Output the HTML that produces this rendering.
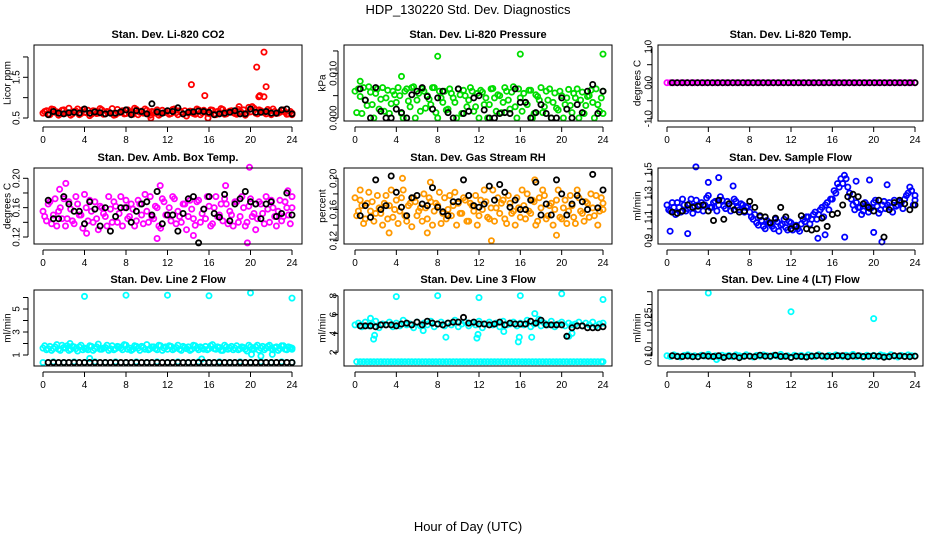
<!DOCTYPE html>
<html><head><meta charset="utf-8">
<style>
html,body{margin:0;padding:0;background:#fff;}
svg{display:block;font-family:"Liberation Sans",Arial,sans-serif;}
</style></head>
<body>
<svg id="chart" width="936" height="540" viewBox="0 0 936 540" xmlns="http://www.w3.org/2000/svg">
<text x="468" y="14" font-size="13" text-anchor="middle">HDP_130220  Std. Dev. Diagnostics</text>
<text x="468" y="531" font-size="13" text-anchor="middle">Hour of Day (UTC)</text>
</svg>
<script>
// ---- data ----
const xTicks = [0,4,8,12,16,20,24];

const co2A = [0.62,0.68,0.58,0.71,0.65,0.6,0.7,0.63,0.57,0.66,0.72,0.61,0.64,0.69,0.59,0.67,0.62,0.7,0.6,0.65,0.73,0.58,0.63,0.68,0.61,0.66,0.59,0.71,0.64,0.62,0.69,0.57,0.65,0.7,0.6,0.63,0.67,0.61,0.72,0.58,0.64,0.68,0.62,0.66,0.59,0.7,0.63,0.65,0.61,0.69,0.58,0.64,0.71,0.6,0.67,0.63,0.59,0.66,0.7,0.62,0.65,0.74,0.6,0.68,0.63,0.71,0.58,0.66,0.62,0.69,0.64,0.6,0.58];
const co2B = [0.66,0.6,0.72,0.64,0.57,0.69,0.62,0.74,0.6,0.67,0.58,0.7,0.63,0.56,0.68,0.61,0.73,0.59,0.66,0.62,0.57,0.71,0.65,0.6,0.7,0.63,0.74,0.58,0.67,0.72,0.6,0.66,0.62,0.57,0.69,0.64,0.59,0.71,0.63,0.68,0.6,0.55,0.67,0.61,0.72,0.58,0.69,0.62,0.7,0.6,0.66,0.73,0.59,0.64,0.68,0.61,0.71,0.63,0.57,0.76,0.78,0.62,0.7,0.65,0.6,0.67,0.72,0.61,0.64,0.7,0.59,0.66,0.62];
const co2Out = [[14.3,1.32],[15.6,1.05],[20.6,1.75],[21.3,2.12],[21.5,1.27],[20.8,1.02],[20.9,1.05],[21.3,1.02],[15.9,0.5],[10.4,0.5],[18.9,0.78]];
const co2K = [0.58,0.66,0.62,0.6,0.63,0.64,0.62,0.72,0.62,0.65,0.63,0.6,0.62,0.62,0.65,0.7,0.58,0.68,0.66,0.6,0.85,0.65,0.62,0.68,0.66,0.75,0.6,0.64,0.65,0.67,0.66,0.64,0.58,0.6,0.62,0.64,0.68,0.6,0.6,0.72,0.64,0.64,0.66,0.62,0.62,0.7,0.72,0.6];

const presA = [0.006,0.0065,0.001,0.004,0.007,0.003,0.0055,0.002,0.0068,0.0045,0.001,0.006,0.0035,0.005,0.0,0.0065,0.0025,0.007,0.004,0.0015,0.006,0.005,0.003,0.0068,0.0,0.0045,0.006,0.002,0.0055,0.0035,0.0065,0.001,0.005,0.004,0.006,0.0025,0.0,0.0058,0.0045,0.003,0.0066,0.0015,0.005,0.0035,0.006,0.002,0.007,0.0,0.0045,0.0055,0.003,0.0062,0.001,0.0048,0.0068,0.0025,0.004,0.0,0.0056,0.0018,0.005,0.003,0.0064,0.0012,0.0045,0.0,0.0058,0.0028,0.005,0.0035,0.0065,0.0015,0.006];
const presB = [0.0012,0.0048,0.0068,0.0028,0.0058,0.0,0.0065,0.0042,0.0015,0.0062,0.0032,0.0052,0.0068,0.001,0.006,0.0038,0.0068,0.0,0.0055,0.0065,0.0022,0.0042,0.0068,0.0012,0.006,0.0035,0.0018,0.0065,0.0045,0.0,0.0052,0.0062,0.0025,0.0068,0.0015,0.0055,0.0062,0.003,0.0,0.0065,0.0045,0.0052,0.0012,0.0068,0.004,0.0058,0.0025,0.0065,0.0015,0.0035,0.0062,0.0,0.0052,0.004,0.0012,0.006,0.0065,0.0035,0.0022,0.006,0.0,0.0045,0.0028,0.0055,0.0065,0.004,0.001,0.0048,0.0062,0.0,0.003,0.0045,0.001];
const presOut = [[8,0.0138],[16,0.0143],[24,0.0143],[0.5,0.0082],[4.5,0.0093]];
const presK = [0.0065,0.004,0.0,0.0068,0.0015,0.0,0.0,0.002,0.0012,0.0,0.0052,0.006,0.0068,0.0048,0.002,0.0045,0.006,0.0012,0.0,0.0065,0.001,0.0015,0.0045,0.005,0.0018,0.0,0.0,0.001,0.0012,0.001,0.0065,0.0035,0.0035,0.0,0.0012,0.003,0.001,0.0,0.0,0.0045,0.002,0.0,0.003,0.0012,0.006,0.0075,0.001,0.006];

const tempA = [0,0,0,0,0,0,0,0,0,0,0,0,0,0,0,0,0,0,0,0,0,0,0,0,0,0,0,0,0,0,0,0,0,0,0,0,0,0,0,0,0,0,0,0,0,0,0,0,0,0,0,0,0,0,0,0,0,0,0,0,0,0,0,0,0,0,0,0,0,0,0,0,0];
const tempK = [0,0,0,0,0,0,0,0,0,0,0,0,0,0,0,0,0,0,0,0,0,0,0,0,0,0,0,0,0,0,0,0,0,0,0,0,0,0,0,0,0,0,0,0,0,0,0,0,0];

const ambA = [0.155,0.142,0.168,0.15,0.135,0.16,0.172,0.145,0.158,0.138,0.165,0.15,0.178,0.142,0.155,0.168,0.13,0.16,0.148,0.175,0.14,0.162,0.152,0.135,0.17,0.148,0.158,0.142,0.165,0.138,0.155,0.175,0.145,0.16,0.132,0.168,0.15,0.142,0.172,0.155,0.14,0.165,0.148,0.158,0.136,0.17,0.152,0.145,0.162,0.138,0.175,0.15,0.142,0.165,0.155,0.135,0.168,0.148,0.16,0.14,0.172,0.152,0.145,0.165,0.138,0.158,0.17,0.148,0.155,0.142,0.168,0.15,0.16];
const ambB = [0.148,0.165,0.138,0.172,0.155,0.145,0.135,0.168,0.142,0.175,0.15,0.132,0.16,0.17,0.14,0.145,0.162,0.152,0.135,0.158,0.168,0.14,0.175,0.16,0.145,0.165,0.135,0.17,0.15,0.178,0.14,0.148,0.162,0.135,0.172,0.15,0.16,0.175,0.138,0.148,0.165,0.13,0.17,0.145,0.168,0.14,0.158,0.175,0.135,0.16,0.148,0.165,0.172,0.138,0.15,0.168,0.14,0.175,0.135,0.162,0.148,0.13,0.168,0.152,0.175,0.14,0.16,0.135,0.17,0.148,0.16,0.138,0.175];
const ambOut = [[19.9,0.215],[11.0,0.118],[19.7,0.112],[4.2,0.125],[14.5,0.122],[2.2,0.193],[11.3,0.19],[17.6,0.19],[1.6,0.185],[23.6,0.183]];
const ambK = [0.17,0.145,0.145,0.175,0.165,0.155,0.155,0.138,0.168,0.158,0.135,0.16,0.128,0.148,0.16,0.16,0.14,0.155,0.165,0.168,0.15,0.182,0.138,0.15,0.15,0.128,0.152,0.172,0.175,0.112,0.158,0.175,0.152,0.147,0.178,0.142,0.165,0.172,0.182,0.168,0.165,0.145,0.165,0.168,0.148,0.152,0.18,0.15];

const rhA = [0.175,0.158,0.165,0.148,0.182,0.17,0.155,0.162,0.14,0.178,0.165,0.15,0.172,0.158,0.185,0.145,0.168,0.175,0.152,0.162,0.18,0.148,0.17,0.158,0.165,0.142,0.175,0.16,0.152,0.182,0.168,0.155,0.172,0.145,0.165,0.178,0.152,0.16,0.17,0.148,0.185,0.162,0.155,0.172,0.142,0.168,0.158,0.175,0.15,0.165,0.18,0.155,0.17,0.145,0.162,0.178,0.152,0.168,0.16,0.185,0.148,0.172,0.158,0.165,0.142,0.175,0.155,0.17,0.15,0.162,0.178,0.158,0.168];
const rhB = [0.152,0.172,0.142,0.168,0.158,0.145,0.178,0.155,0.168,0.148,0.185,0.16,0.142,0.175,0.152,0.165,0.138,0.17,0.158,0.145,0.162,0.175,0.14,0.168,0.182,0.155,0.148,0.178,0.165,0.14,0.155,0.175,0.145,0.168,0.158,0.14,0.172,0.185,0.15,0.162,0.145,0.175,0.168,0.148,0.178,0.155,0.14,0.162,0.185,0.148,0.158,0.172,0.14,0.175,0.185,0.148,0.165,0.14,0.172,0.15,0.162,0.142,0.178,0.15,0.185,0.158,0.145,0.168,0.18,0.152,0.14,0.175,0.16];
const rhOut = [[13.2,0.12],[19.5,0.127],[3.3,0.13],[7.0,0.13],[4.6,0.2],[7.3,0.195],[17.4,0.198],[0.5,0.185]];
const rhK = [0.152,0.165,0.15,0.198,0.16,0.165,0.203,0.182,0.163,0.152,0.175,0.178,0.167,0.165,0.188,0.163,0.157,0.152,0.17,0.17,0.198,0.178,0.165,0.163,0.167,0.19,0.172,0.192,0.182,0.163,0.172,0.16,0.16,0.172,0.195,0.153,0.167,0.153,0.198,0.18,0.153,0.167,0.178,0.17,0.16,0.205,0.162,0.185];

const flowA = [1.2,1.15,1.18,1.22,1.14,1.2,1.17,1.25,1.19,1.16,1.22,1.2,1.28,1.18,1.23,1.2,1.24,1.17,1.21,1.19,1.23,1.16,1.2,1.18,1.14,1.08,1.05,1.1,1.02,1.07,1.04,1.0,1.06,1.03,1.08,0.99,1.05,1.02,1.0,1.04,1.06,1.1,1.08,1.14,1.12,1.18,1.2,1.16,1.25,1.3,1.35,1.38,1.42,1.3,1.2,1.22,1.18,1.15,1.2,1.17,1.22,1.19,1.16,1.23,1.2,1.18,1.24,1.2,1.22,1.25,1.3,1.32,1.24];
const flowB = [1.16,1.22,1.12,1.18,1.25,1.15,1.21,1.13,1.24,1.2,1.15,1.26,1.18,1.22,1.15,1.27,1.19,1.23,1.15,1.25,1.18,1.21,1.14,1.19,1.1,1.12,1.03,1.07,1.0,1.05,1.02,1.08,0.98,1.04,1.01,1.06,0.99,1.03,0.98,1.08,1.1,1.04,1.12,1.08,1.16,1.1,1.22,1.25,1.32,1.38,1.42,1.45,1.35,1.25,1.16,1.18,1.12,1.22,1.14,1.18,1.24,1.13,1.2,1.17,1.22,1.14,1.19,1.23,1.17,1.28,1.35,1.2,1.28];
const flowOut = [[0.3,0.98],[2.0,0.96],[5.0,1.43],[4.0,1.39],[6.4,1.36],[18.3,1.4],[19.6,1.41],[17.2,0.93],[14.6,0.92],[20.8,0.89],[15.3,0.95],[21.3,1.37],[20.0,0.97],[2.8,1.52]];
const flowK = [1.14,1.13,1.15,1.2,1.18,1.19,1.2,1.15,1.07,1.24,1.08,1.21,1.16,1.14,1.15,1.23,1.18,1.11,1.1,1.05,1.09,1.18,1.1,1.0,1.02,1.11,1.0,0.99,1.0,1.09,1.02,1.12,1.13,1.2,1.27,1.29,1.27,1.21,1.18,1.15,1.24,0.93,1.16,1.22,1.24,1.21,1.16,1.2];

const l2A = [1.6,1.45,1.75,1.55,1.9,1.4,1.65,1.8,1.5,1.7,1.35,1.85,1.6,1.45,1.75,1.55,1.95,1.5,1.65,1.4,1.8,1.55,1.7,1.45,1.85,1.6,1.5,1.75,1.4,1.65,1.9,1.55,1.7,1.45,1.8,1.6,1.5,1.75,1.55,1.85,1.4,1.65,1.7,1.5,1.8,1.45,1.6,1.75,1.55,1.9,1.5,1.65,1.4,1.7,1.6,1.45,1.8,1.55,1.65,1.35,1.7,1.5,1.85,1.6,1.45,1.75,1.55,1.65,1.4,1.8,1.5,1.7,1.6];
const l2B = [1.8,1.55,1.4,1.7,1.5,1.85,1.6,1.4,1.75,1.55,1.7,1.45,1.55,1.8,1.4,1.7,1.5,1.6,1.85,1.55,1.45,1.75,1.6,1.9,1.5,1.4,1.8,1.6,1.75,1.5,1.45,1.7,1.55,1.85,1.4,1.7,1.8,1.45,1.65,1.5,1.75,1.55,1.4,1.85,1.6,1.7,1.5,1.45,1.8,1.55,1.7,1.4,1.85,1.5,1.75,1.6,1.45,1.7,1.5,1.85,1.55,1.7,1.4,1.75,1.6,1.85,1.45,1.7,1.55,1.8,1.45,1.65,1.5];
const l2Out = [[4,6.1],[8,6.2],[12,6.2],[16,6.15],[20,6.4],[24,5.95],[4.5,0.7],[15.3,0.65],[20.1,1.05],[21.0,0.9],[22.1,1.05],[2.6,2.0]];
const l2K = [0.35,0.35,0.35,0.35,0.35,0.35,0.35,0.35,0.35,0.35,0.35,0.35,0.35,0.35,0.35,0.35,0.35,0.35,0.35,0.35,0.35,0.35,0.35,0.35,0.35,0.35,0.35,0.35,0.35,0.35,0.35,0.35,0.35,0.35,0.35,0.35,0.35,0.35,0.35,0.35,0.35,0.35,0.35,0.35,0.35,0.35,0.35,0.35];
const l2Low = [0.35,0.4,0.35,0.4,0.35,0.4,0.35,0.4,0.35,0.4,0.35,0.4,0.35,0.4,0.35,0.4,0.35,0.4,0.35,0.4,0.35,0.4,0.35,0.4,0.35];

const l3A = [4.9,5.1,4.7,5.2,4.8,5.0,5.3,4.6,5.0,4.9,5.2,4.7,5.1,4.8,5.4,4.9,5.0,4.6,5.2,4.8,5.1,4.9,5.3,4.7,5.0,5.2,4.8,5.1,4.9,5.4,4.7,5.0,5.2,4.8,5.1,4.9,5.3,4.6,5.0,5.2,4.9,5.1,4.7,5.3,4.9,5.0,5.2,4.8,5.1,4.9,5.4,4.7,5.0,5.2,4.8,5.1,4.9,5.3,4.7,5.0,5.2,4.8,5.1,4.9,5.0,5.2,4.8,5.1,4.9,5.2,4.8,5.0,5.1];
const l3Low = [1.0,1.0,1.0,1.0,1.0,1.0,1.0,1.0,1.0,1.0,1.0,1.0,1.0,1.0,1.0,1.0,1.0,1.0,1.0,1.0,1.0,1.0,1.0,1.0,1.0,1.0,1.0,1.0,1.0,1.0,1.0,1.0,1.0,1.0,1.0,1.0,1.0,1.0,1.0,1.0,1.0,1.0,1.0,1.0,1.0,1.0,1.0,1.0,1.0,1.0,1.0,1.0,1.0,1.0,1.0,1.0,1.0,1.0,1.0,1.0,1.0,1.0,1.0,1.0,1.0,1.0,1.0,1.0,1.0,1.0,1.0,1.0,1.0];
const l3Out = [[4,7.9],[8,8.0],[12,7.8],[16,8.0],[20,8.2],[24,7.6],[1.8,3.4],[1.9,3.8],[8.8,3.6],[11.8,3.5],[11.9,3.9],[14.4,4.2],[15.8,3.1],[15.9,3.6],[17.1,3.6],[20.7,3.7],[21.0,4.0],[6.6,4.3],[17.4,6.1],[1.5,5.6],[17.8,5.5]];
const l3K = [4.8,4.8,4.8,4.7,4.9,4.9,4.9,4.8,5.0,5.1,4.9,5.2,4.9,5.3,5.1,5.0,4.9,5.1,5.2,5.2,5.7,5.1,5.2,5.0,5.0,4.9,5.0,5.2,4.9,5.1,5.0,5.0,5.0,5.3,5.1,5.4,4.9,4.9,4.9,4.9,3.7,4.6,4.8,4.8,4.6,4.6,4.6,4.7];

const l4A = [0.1,0.097,0.103,0.099,0.095,0.101,0.104,0.098,0.1,0.096,0.102,0.099,0.105,0.097,0.1,0.094,0.102,0.098,0.101,0.096,0.103,0.1,0.097,0.104,0.099,0.095,0.101,0.098,0.103,0.1,0.096,0.102,0.099,0.105,0.097,0.1,0.094,0.102,0.098,0.101,0.096,0.103,0.1,0.097,0.104,0.099,0.095,0.101,0.098,0.103,0.1,0.096,0.102,0.099,0.105,0.097,0.1,0.094,0.102,0.098,0.101,0.096,0.103,0.1,0.097,0.104,0.099,0.095,0.101,0.098,0.103,0.1,0.099];
const l4Out = [[4,0.345],[12,0.272],[20,0.245],[4.8,0.085]];
const l4K = [0.1,0.097,0.097,0.099,0.096,0.096,0.1,0.098,0.097,0.1,0.093,0.098,0.098,0.092,0.098,0.098,0.096,0.102,0.098,0.098,0.102,0.097,0.098,0.093,0.098,0.097,0.095,0.098,0.1,0.099,0.098,0.097,0.1,0.1,0.096,0.099,0.1,0.097,0.098,0.1,0.098,0.094,0.096,0.1,0.099,0.097,0.096,0.098];

// ---- layout ----
const NS = "http://www.w3.org/2000/svg";
const svg = document.getElementById("chart");
const cols = [{l:34,r:302,x0:43,x24:292,tl:16,tt:7},{l:344,r:612,x0:355,x24:603,tl:333,tt:322},{l:658,r:923,x0:667,x24:915,tl:648,tt:637}];
const rows = [{t:45,b:121},{t:168,b:244},{t:290,b:366}];

function mk(tag, attrs, parent){
  const e = document.createElementNS(NS, tag);
  for (const k in attrs) e.setAttribute(k, attrs[k]);
  (parent||svg).appendChild(e);
  return e;
}

function panel(p){
  const c = cols[p.col], r = rows[p.row];
  const g = mk("g", {});
  
  
  const xs = h => c.x0 + (c.x24 - c.x0) * h / 24;
  const ys = v => p.yp1 + (p.yp2 - p.yp1) * (v - p.yv1) / (p.yv2 - p.yv1);
  const plotG = mk("g", {}, g);
  
  
  function dot(h, v, col){
    const y = ys(v);
    if (y < r.t - 3 || y > r.b + 3) return;
    const ci = mk("circle", {cx:xs(h).toFixed(1), cy:y.toFixed(1), r:2.6, fill:"none", stroke:col, "stroke-width":1.8}, plotG);
    
    
  }
  p.colored.forEach((arr, k) => {
    const n = arr.length;
    const off = k % 2 === 1 ? 0.5 : 0;
    arr.forEach((v, i) => dot(Math.min(24, (i + off) * 24 / (n - 1)), v, p.color));
  });
  (p.out || []).forEach(o => dot(o[0], o[1], p.color));
  p.black.forEach((v, i) => dot(0.5 + i * 23.5 / (p.black.length - 1), v, "#000"));

  const box = mk("rect", {x:c.l, y:r.t, width:c.r - c.l, height:r.b - r.t, fill:"none", stroke:"#000", "stroke-width":1}, g);
  
  

  const ttl = mk("text", {x:(c.l + c.r) / 2, y:r.t - 7, "font-size":11, "font-weight":"bold", "text-anchor":"middle"}, g);
  
  
  ttl.textContent = p.title;

  const xa = mk("g", {}, g);
  
  
  const ay = r.b + 6;
  mk("line", {x1:xs(0), x2:xs(24), y1:ay, y2:ay, stroke:"#000"}, xa);
  xTicks.forEach(t => {
    mk("line", {x1:xs(t), x2:xs(t), y1:ay, y2:ay + 5, stroke:"#000"}, xa);
    const tx = mk("text", {x:xs(t), y:ay + 16, "font-size":10, "text-anchor":"middle"}, xa);
    
    
    tx.textContent = t;
  });

  const ya = mk("g", {}, g);
  
  
  const ax = c.l - 6;
  const tys = p.yticks.map(ys);
  mk("line", {x1:ax, x2:ax, y1:Math.min(...tys), y2:Math.max(...tys), stroke:"#000"}, ya);
  p.yticks.forEach((t, i) => {
    const y = ys(t);
    mk("line", {x1:ax - 5, x2:ax, y1:y, y2:y, stroke:"#000"}, ya);
    if (p.ylabels[i] !== "") {
      const tx = mk("text", {x:c.tl, y:y, "font-size":10, "text-anchor":"middle", transform:`rotate(-90 ${c.tl} ${y})`, dy:"0.35em"}, ya);
      
      
      tx.textContent = p.ylabels[i];
    }
  });
  const my = (r.t + r.b) / 2;
  const yt = mk("text", {x:c.tt, y:my, "font-size":10, "text-anchor":"middle", transform:`rotate(-90 ${c.tt} ${my})`, dy:"0.35em"}, ya);
  
  
  yt.textContent = p.ytitle;
}

panel({name:"panel-co2", col:0,row:0,title:"Stan. Dev. Li-820 CO2",ytitle:"Licor ppm",color:"#ff0000",colored:[co2A,co2B],out:co2Out,black:co2K,yv1:0.5,yp1:118,yv2:1.5,yp2:77.3,yticks:[0.5,1,1.5,2],ylabels:["0.5","","1.5",""]});
panel({name:"panel-pressure", col:1,row:0,title:"Stan. Dev. Li-820 Pressure",ytitle:"kPa",color:"#00dd00",colored:[presA,presB],out:presOut,black:presK,yv1:0,yp1:118,yv2:0.01,yp2:73.3,yticks:[0,0.005,0.01,0.015],ylabels:["0.000","","0.010",""]});
panel({name:"panel-temp", col:2,row:0,title:"Stan. Dev. Li-820 Temp.",ytitle:"degrees C",color:"#ff00ff",colored:[tempA],out:[],black:tempK,yv1:-1,yp1:118.7,yv2:1,yp2:46.7,yticks:[-1,-0.5,0,0.5,1],ylabels:["-1.0","","0.0","","1.0"]});
panel({name:"panel-amb-temp", col:0,row:1,title:"Stan. Dev. Amb. Box Temp.",ytitle:"degrees C",color:"#ff00ff",colored:[ambA,ambB],out:ambOut,black:ambK,yv1:0.12,yp1:237,yv2:0.2,yp2:178.3,yticks:[0.12,0.14,0.16,0.18,0.2],ylabels:["0.12","","0.16","","0.20"]});
panel({name:"panel-rh", col:1,row:1,title:"Stan. Dev. Gas Stream RH",ytitle:"percent",color:"#ff9900",colored:[rhA,rhB],out:rhOut,black:rhK,yv1:0.12,yp1:240.7,yv2:0.2,yp2:178.3,yticks:[0.12,0.14,0.16,0.18,0.2],ylabels:["0.12","","0.16","","0.20"]});
panel({name:"panel-sample-flow", col:2,row:1,title:"Stan. Dev. Sample Flow",ytitle:"ml/min",color:"#0000ff",colored:[flowA,flowB],out:flowOut,black:flowK,yv1:0.9,yp1:240.7,yv2:1.5,yp2:169.3,yticks:[0.9,1.0,1.1,1.2,1.3,1.4,1.5],ylabels:["0.9","","1.1","","1.3","","1.5"]});
panel({name:"panel-line2", col:0,row:2,title:"Stan. Dev. Line 2 Flow",ytitle:"ml/min",color:"#00ffff",colored:[l2A,l2B,l2Low],out:l2Out,black:l2K,yv1:1,yp1:355,yv2:5,yp2:309,yticks:[1,2,3,4,5,6],ylabels:["1","","3","","5",""]});
panel({name:"panel-line3", col:1,row:2,title:"Stan. Dev. Line 3 Flow",ytitle:"ml/min",color:"#00ffff",colored:[l3A,l3Low],out:l3Out,black:l3K,yv1:2,yp1:352.3,yv2:8,yp2:295.7,yticks:[2,4,6,8],ylabels:["2","4","6","8"]});
panel({name:"panel-line4", col:2,row:2,title:"Stan. Dev. Line 4 (LT) Flow",ytitle:"ml/min",color:"#00ffff",colored:[l4A],out:l4Out,black:l4K,yv1:0.1,yp1:355.7,yv2:0.25,yp2:317.3,yticks:[0.1,0.15,0.2,0.25,0.3,0.35],ylabels:["0.10","","","0.25","",""]});
</script>
</body></html>
